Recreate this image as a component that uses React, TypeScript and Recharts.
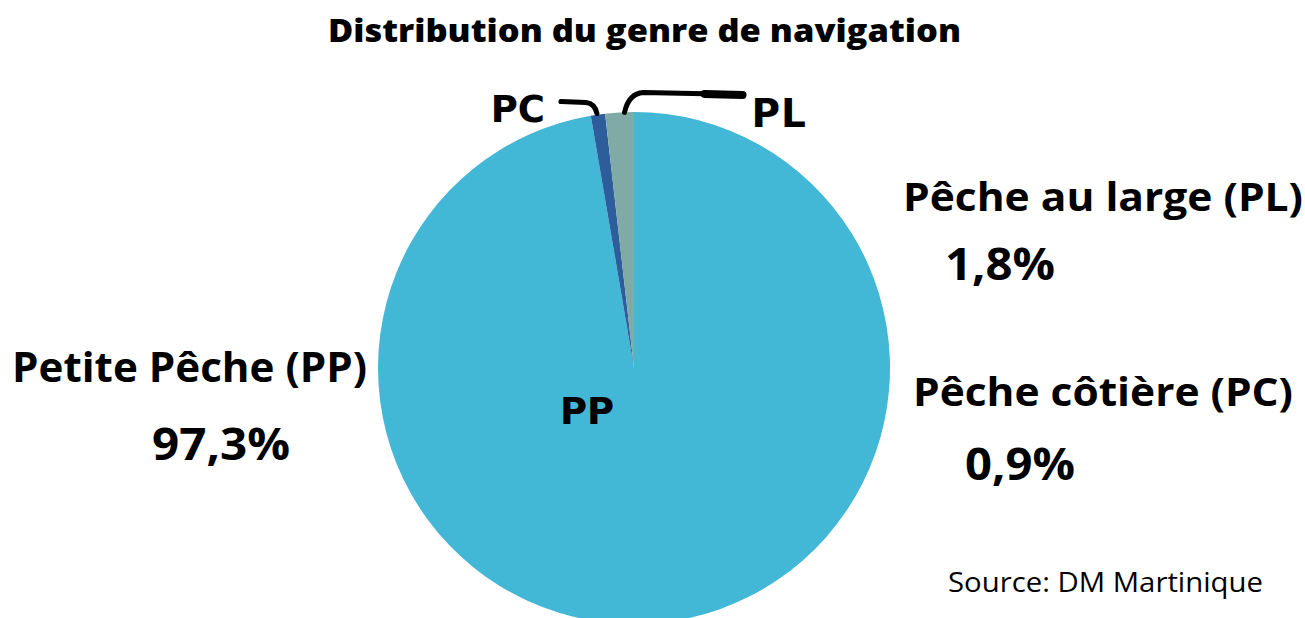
import React from "react";
import { PieChart, Pie, Cell } from "recharts";

const codes = ["PP", "PC", "PL"];
const names = ["Petite Pêche (PP)", "Pêche côtière (PC)", "Pêche au large (PL)"];
const shares = [97.3, 0.9, 1.8];
const shareLabels = ["97,3%", "0,9%", "1,8%"];
const colors = ["#42B7D6", "#2D5E9B", "#80AAA6"];

const data = codes.map((code, i) => ({ code, name: names[i], value: shares[i] }));

const RADIAN = Math.PI / 180;

const titleFont = "'Open Sans', sans-serif";
const codeFont = "'DejaVu Sans', sans-serif";

// small code labels with hand-drawn leader lines
const renderLabel = (props: any) => {
  const { cx, cy, midAngle, outerRadius, index } = props;
  const ex = cx + outerRadius * Math.cos(-midAngle * RADIAN);
  const ey = cy + outerRadius * Math.sin(-midAngle * RADIAN);
  const code = codes[index];

  if (code === "PP") {
    return (
      <text
        x={cx - 74}
        y={cy + 56}
        fontFamily={codeFont}
        fontWeight={700}
        fontSize={37}
        fill="#000"
      >
        PP
      </text>
    );
  }

  if (code === "PC") {
    return (
      <g>
        <path
          d={`M ${ex - 37} ${ey - 13} L ${ex - 12} ${ey - 12} Q ${ex - 3} ${ey - 11} ${ex - 1} ${ey - 1}`}
          stroke="#000"
          strokeWidth={5}
          fill="none"
          strokeLinecap="round"
        />
        <text
          x={ex - 53}
          y={ey + 7}
          textAnchor="end"
          fontFamily={codeFont}
          fontWeight={700}
          fontSize={37}
          fill="#000"
        >
          PC
        </text>
      </g>
    );
  }

  return (
    <g>
      <path
        d={`M ${ex + 5} ${ey} Q ${ex + 9} ${ey - 19} ${ex + 24} ${ey - 20} L ${ex + 122} ${ey - 18}`}
        stroke="#000"
        strokeWidth={5}
        fill="none"
        strokeLinecap="round"
      />
      <path
        d={`M ${ex + 85} ${ey - 18.5} L ${ex + 123} ${ey - 17.5}`}
        stroke="#000"
        strokeWidth={8}
        fill="none"
        strokeLinecap="round"
      />
      <text
        x={ex + 132}
        y={ey + 15}
        fontFamily={codeFont}
        fontWeight={700}
        fontSize={39}
        letterSpacing={1}
        fill="#000"
      >
        PL
      </text>
    </g>
  );
};

const App: React.FC = () => {
  return (
    <div
      style={{
        position: "absolute",
        left: 0,
        top: 0,
        width: 1305,
        height: 618,
        background: "#fff",
        overflow: "hidden",
      }}
    >
      <PieChart width={1305} height={618} margin={{ top: 0, right: 0, bottom: 0, left: 0 }}>
        <Pie
          data={data}
          dataKey="value"
          nameKey="name"
          cx={634}
          cy={368}
          outerRadius={256}
          startAngle={90}
          endAngle={-270}
          stroke="none"
          label={renderLabel}
          labelLine={false}
          isAnimationActive={false}
        >
          {data.map((d, i) => (
            <Cell key={d.code} fill={colors[i]} />
          ))}
        </Pie>
      </PieChart>

      <svg
        width={1305}
        height={618}
        style={{ position: "absolute", left: 0, top: 0, pointerEvents: "none" }}
      >
        <text
          x={328}
          y={42}
          fontFamily={titleFont}
          fontWeight={800}
          fontSize={32}
          textLength={633}
          lengthAdjust="spacingAndGlyphs"
          fill="#000"
        >
          Distribution du genre de navigation
        </text>

        {/* Petite Pêche */}
        <text x={12} y={382} fontFamily={titleFont} fontWeight={700} fontSize={41} textLength={355} lengthAdjust="spacingAndGlyphs" fill="#000">
          {names[0]}
        </text>
        <text x={152} y={460} fontFamily={titleFont} fontWeight={700} fontSize={45} textLength={138} lengthAdjust="spacingAndGlyphs" fill="#000">
          {shareLabels[0]}
        </text>

        {/* Pêche au large */}
        <text x={903} y={211} fontFamily={titleFont} fontWeight={700} fontSize={40} textLength={400} lengthAdjust="spacingAndGlyphs" fill="#000">
          {names[2]}
        </text>
        <text x={945} y={280} fontFamily={titleFont} fontWeight={700} fontSize={45} textLength={110} lengthAdjust="spacingAndGlyphs" fill="#000">
          {shareLabels[2]}
        </text>

        {/* Pêche côtière */}
        <text x={913} y={406} fontFamily={titleFont} fontWeight={700} fontSize={40} textLength={380} lengthAdjust="spacingAndGlyphs" fill="#000">
          {names[1]}
        </text>
        <text x={965} y={480} fontFamily={titleFont} fontWeight={700} fontSize={45} textLength={110} lengthAdjust="spacingAndGlyphs" fill="#000">
          {shareLabels[1]}
        </text>

        <text x={948} y={592} fontFamily={titleFont} fontSize={28} textLength={315} lengthAdjust="spacingAndGlyphs" fill="#000">
          Source: DM Martinique
        </text>
      </svg>
    </div>
  );
};

export default App;
